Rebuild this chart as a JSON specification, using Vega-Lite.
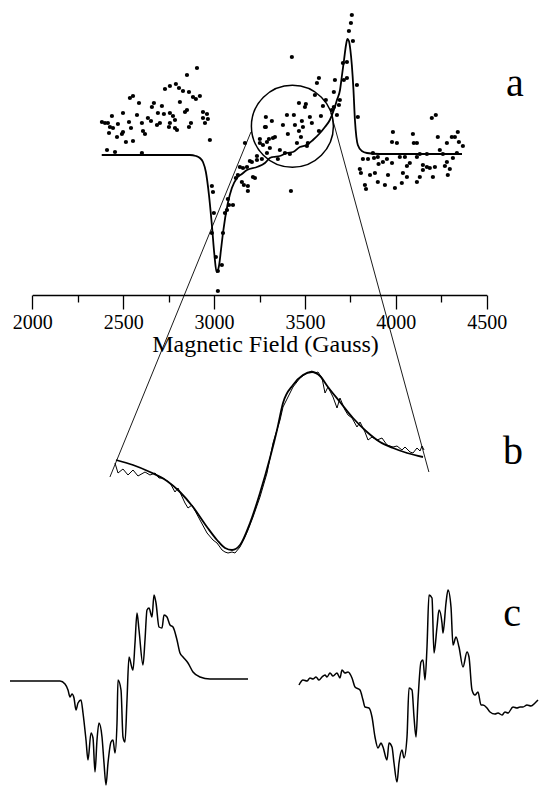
{
"$schema": "https://vega.github.io/schema/vega-lite/v6.json",
"width": 539, "height": 786, "autosize": {"type": "none"}, "padding": 0,
"background": "white",
"config": {"view": {"stroke": null}, "font": "Liberation Serif, Times New Roman, serif"},
"datasets": {
"aPts": [
{"G":2906,"I":8.7},{"G":2851,"I":8.0},{"G":2790,"I":7.1},{"G":2757,"I":6.9},{"G":2730,"I":6.6},{"G":2807,"I":6.7},{"G":2829,"I":6.4},{"G":2862,"I":6.3},{"G":2554,"I":5.9},{"G":2537,"I":5.7},{"G":2922,"I":5.9},{"G":2900,"I":5.6},{"G":2884,"I":5.8},{"G":2812,"I":5.3},{"G":2587,"I":5.2},{"G":2669,"I":5.2},{"G":2713,"I":4.9},{"G":2658,"I":4.8},{"G":2851,"I":4.5},{"G":2840,"I":4.3},{"G":2939,"I":4.3},{"G":2961,"I":4.1},{"G":2757,"I":4.2},{"G":2724,"I":4.1},{"G":2691,"I":4.2},{"G":2499,"I":4.2},{"G":2438,"I":3.9},{"G":2576,"I":4.0},{"G":2774,"I":3.9},{"G":2939,"I":3.7},{"G":2966,"I":3.6},{"G":2636,"I":3.7},{"G":2653,"I":3.4},{"G":2532,"I":3.3},{"G":2383,"I":3.3},{"G":2400,"I":3.2},{"G":2416,"I":3.2},{"G":2702,"I":3.2},{"G":2686,"I":3.0},{"G":2471,"I":3.1},{"G":2603,"I":3.2},{"G":2757,"I":3.2},{"G":2785,"I":3.5},{"G":2950,"I":3.2},{"G":2873,"I":3.2},{"G":2862,"I":2.8},{"G":2427,"I":2.8},{"G":2444,"I":2.7},{"G":2543,"I":2.7},{"G":2752,"I":2.8},{"G":2785,"I":2.7},{"G":2796,"I":2.5},{"G":2609,"I":2.4},{"G":2620,"I":2.1},{"G":2499,"I":2.3},{"G":2493,"I":2.1},{"G":2422,"I":2.2},{"G":2466,"I":1.8},{"G":2554,"I":1.4},{"G":2515,"I":1.3},{"G":2977,"I":1.5},{"G":2411,"I":0.5},{"G":2455,"I":0.3},{"G":2603,"I":0.2},
{"G":2988,"I":-3.1},{"G":2994,"I":-3.7},{"G":2999,"I":-5.8},{"G":2988,"I":-7.8},{"G":3010,"I":-10.2},{"G":3043,"I":-11.0},{"G":3021,"I":-11.6},{"G":3049,"I":-7.8},{"G":3060,"I":-5.8},{"G":3071,"I":-5.5},{"G":3082,"I":-5.0},{"G":3104,"I":-5.0},{"G":3076,"I":-4.4},{"G":3120,"I":-2.3},{"G":3131,"I":-2.0},{"G":3153,"I":-2.7},{"G":3164,"I":-3.0},{"G":3186,"I":-3.6},{"G":3214,"I":-2.2},{"G":3181,"I":-1.2},{"G":3208,"I":-0.7},{"G":3236,"I":-0.5},{"G":3142,"I":-1.2},{"G":3252,"I":1.6},{"G":3291,"I":1.3},{"G":3269,"I":1.0},{"G":3285,"I":3.8},{"G":3285,"I":2.8},{"G":3021,"I":-13.6},
{"G":3170,"I":1.2},{"G":3236,"I":-0.1},{"G":3263,"I":-0.4},{"G":3197,"I":-0.6},{"G":3225,"I":-2.3},{"G":3159,"I":-1.3},{"G":3186,"I":-3.1},
{"G":3758,"I":14.0},{"G":3753,"I":13.2},{"G":3742,"I":12.4},{"G":3764,"I":11.4},{"G":3428,"I":9.8},{"G":3577,"I":7.7},{"G":3566,"I":7.2},{"G":3665,"I":7.5},{"G":3731,"I":7.7},{"G":3714,"I":7.5},{"G":3709,"I":9.2},{"G":3731,"I":9.3},{"G":3786,"I":7.0},{"G":3555,"I":6.0},{"G":3659,"I":6.3},{"G":3615,"I":5.5},{"G":3599,"I":4.9},{"G":3692,"I":5.5},{"G":3687,"I":5.0},{"G":3659,"I":4.8},{"G":3467,"I":5.2},{"G":3505,"I":5.1},{"G":3500,"I":4.8},{"G":3676,"I":4.0},{"G":3648,"I":4.5},{"G":3791,"I":3.8},{"G":3401,"I":4.0},{"G":3439,"I":4.0},{"G":3588,"I":3.9},{"G":3527,"I":3.8},{"G":3318,"I":3.4},{"G":3483,"I":3.4},{"G":3538,"I":3.2},{"G":3379,"I":3.0},{"G":3445,"I":3.0},{"G":3280,"I":2.8},{"G":3489,"I":2.8},{"G":3467,"I":2.4},{"G":3406,"I":2.1},{"G":3577,"I":2.4},{"G":3335,"I":1.8},{"G":3324,"I":1.7},{"G":3302,"I":1.6},{"G":3252,"I":1.2},{"G":3478,"I":1.8},{"G":3456,"I":1.2},{"G":3511,"I":0.9},{"G":3516,"I":1.2},{"G":3362,"I":0.5},{"G":3307,"I":0.7},{"G":3291,"I":0.2},{"G":3390,"I":0.2},{"G":3351,"I":-0.4},{"G":3417,"I":0.1},{"G":3423,"I":-3.6},
{"G":3984,"I":2.3},{"G":4094,"I":2.1},{"G":4198,"I":3.7},{"G":4220,"I":4.0},{"G":4006,"I":1.2},{"G":3979,"I":1.3},{"G":4099,"I":1.2},{"G":4116,"I":1.2},{"G":4231,"I":1.8},{"G":4281,"I":1.2},{"G":4308,"I":1.8},{"G":4325,"I":1.8},{"G":4341,"I":2.3},{"G":4347,"I":1.3},{"G":4369,"I":0.9},{"G":4242,"I":0.5},{"G":4171,"I":0.1},{"G":4132,"I":0.1},{"G":4259,"I":0.1},{"G":4336,"I":0.2},{"G":3874,"I":0.2},{"G":3819,"I":-0.4},{"G":3847,"I":-0.4},{"G":3880,"I":-0.3},{"G":3901,"I":-0.2},{"G":3929,"I":-0.7},{"G":3951,"I":-0.4},{"G":3905,"I":-0.9},{"G":3979,"I":-0.8},{"G":4022,"I":-0.2},{"G":4050,"I":-0.2},{"G":4077,"I":-0.8},{"G":4061,"I":-1.1},{"G":4116,"I":-0.2},{"G":4149,"I":-1.0},{"G":4171,"I":-1.2},{"G":4187,"I":-1.3},{"G":4215,"I":-1.2},{"G":4281,"I":-0.7},{"G":4314,"I":-0.3},{"G":4270,"I":-1.1},{"G":4297,"I":-1.4},{"G":3802,"I":-1.4},{"G":3808,"I":-1.8},{"G":3858,"I":-2.0},{"G":3885,"I":-1.8},{"G":3901,"I":-2.7},{"G":3940,"I":-3.0},{"G":3957,"I":-2.0},{"G":4039,"I":-1.8},{"G":3995,"I":-3.3},{"G":3830,"I":-3.0},{"G":3836,"I":-3.4},{"G":4033,"I":-2.8},{"G":4116,"I":-2.7},{"G":4132,"I":-2.2},{"G":4204,"I":-2.2},{"G":4286,"I":-2.0},{"G":4149,"I":-1.5},{"G":4061,"I":-2.2}
],
"aFit": [
{"G":2382,"I":0},{"G":2647,"I":0},{"G":2867,"I":0},{"G":2900,"I":-0.1},{"G":2922,"I":-0.3},{"G":2939,"I":-0.7},{"G":2955,"I":-1.7},{"G":2972,"I":-4.0},{"G":2988,"I":-7.0},{"G":3002,"I":-10.0},{"G":3014,"I":-11.7},{"G":3027,"I":-11.1},{"G":3038,"I":-9.5},{"G":3049,"I":-7.8},{"G":3076,"I":-4.8},{"G":3098,"I":-3.3},{"G":3126,"I":-2.3},{"G":3153,"I":-1.9},{"G":3181,"I":-1.5},{"G":3236,"I":-1.2},{"G":3280,"I":-0.8},{"G":3307,"I":-0.3},{"G":3324,"I":-0.2},{"G":3362,"I":-0.1},{"G":3400,"I":0.2},{"G":3434,"I":0.3},{"G":3472,"I":0.8},{"G":3510,"I":1.0},{"G":3544,"I":1.5},{"G":3583,"I":2.2},{"G":3610,"I":2.8},{"G":3637,"I":3.5},{"G":3659,"I":4.5},{"G":3676,"I":5.5},{"G":3693,"I":6.5},{"G":3704,"I":8.0},{"G":3715,"I":9.5},{"G":3726,"I":11.0},{"G":3734,"I":11.6},{"G":3742,"I":11.4},{"G":3750,"I":10.5},{"G":3758,"I":9.0},{"G":3767,"I":6.5},{"G":3775,"I":3.5},{"G":3783,"I":1.8},{"G":3791,"I":1.0},{"G":3813,"I":0.4},{"G":3841,"I":0.2},{"G":3912,"I":0.1},{"G":4022,"I":0.1},{"G":4364,"I":0.1}
],
"aCircle": [{"G":3431,"I":2.87}],
"aLinks": [{"G":3203,"I":2.3,"G2":2427,"I2":-32.2},{"G":3643,"I":4.2,"G2":4182,"I2":-31.7}],
"aLabel": [{"G":4655,"I":7.1,"label":"a"}],
"bFit": [
{"G":3201.5,"S":0},{"G":3226.2,"S":-0.5},{"G":3250.8,"S":-1.2},{"G":3275.5,"S":-2.1},{"G":3294.4,"S":-3.2},{"G":3313.3,"S":-4.7},{"G":3333.6,"S":-6.7},{"G":3348.1,"S":-8.0},{"G":3359.7,"S":-8.8},{"G":3369.9,"S":-9.0},{"G":3381.5,"S":-8.5},{"G":3396.0,"S":-6.3},{"G":3410.5,"S":-3.3},{"G":3425.0,"S":0.2},{"G":3435.2,"S":3.0},{"G":3443.9,"S":5.7},{"G":3458.4,"S":7.5},{"G":3472.9,"S":8.5},{"G":3486.0,"S":8.8},{"G":3497.6,"S":8.4},{"G":3509.2,"S":7.3},{"G":3526.6,"S":5.8},{"G":3545.5,"S":4.2},{"G":3565.9,"S":2.8},{"G":3584.7,"S":1.8},{"G":3603.6,"S":1.2},{"G":3623.9,"S":0.7},{"G":3647.1,"S":0.3}
],
"bData": [
{"G":3200.0,"S":-0.3},{"G":3204.4,"S":-1.3},{"G":3211.6,"S":-0.9},{"G":3218.9,"S":-1.5},{"G":3226.2,"S":-1.0},{"G":3233.4,"S":-1.6},{"G":3243.6,"S":-1.2},{"G":3250.8,"S":-1.5},{"G":3258.1,"S":-1.3},{"G":3263.9,"S":-1.8},{"G":3269.7,"S":-1.8},{"G":3279.9,"S":-2.3},{"G":3287.1,"S":-3.2},{"G":3291.5,"S":-2.8},{"G":3301.6,"S":-4.3},{"G":3306.0,"S":-4.8},{"G":3311.8,"S":-4.5},{"G":3323.4,"S":-6.0},{"G":3333.6,"S":-7.3},{"G":3342.3,"S":-8.0},{"G":3348.1,"S":-8.3},{"G":3355.4,"S":-9.0},{"G":3359.7,"S":-9.2},{"G":3364.1,"S":-9.3},{"G":3369.9,"S":-9.2},{"G":3374.2,"S":-9.3},{"G":3381.5,"S":-8.7},{"G":3388.7,"S":-7.7},{"G":3393.1,"S":-7.0},{"G":3400.4,"S":-5.7},{"G":3410.5,"S":-3.7},{"G":3420.7,"S":-1.3},{"G":3429.4,"S":1.7},{"G":3439.6,"S":4.0},{"G":3443.9,"S":5.3},{"G":3458.4,"S":7.3},{"G":3468.6,"S":8.2},{"G":3478.7,"S":8.7},{"G":3486.0,"S":8.9},{"G":3490.4,"S":8.7},{"G":3494.7,"S":8.8},{"G":3500.5,"S":8.2},{"G":3504.9,"S":6.7},{"G":3509.2,"S":7.3},{"G":3516.5,"S":6.3},{"G":3522.3,"S":5.2},{"G":3526.6,"S":6.2},{"G":3533.9,"S":5.0},{"G":3538.3,"S":4.5},{"G":3544.1,"S":4.2},{"G":3551.3,"S":3.3},{"G":3555.7,"S":3.8},{"G":3562.9,"S":2.8},{"G":3567.3,"S":2.0},{"G":3573.1,"S":2.3},{"G":3580.4,"S":2.0},{"G":3587.6,"S":2.2},{"G":3594.9,"S":1.5},{"G":3603.6,"S":1.3},{"G":3609.4,"S":1.4},{"G":3616.6,"S":1.0},{"G":3621.0,"S":1.3},{"G":3628.3,"S":0.8},{"G":3632.6,"S":0.7},{"G":3638.4,"S":1.2},{"G":3642.8,"S":0.9},{"G":3645.7,"S":1.4},{"G":3648.6,"S":1.0}
],
"bLabel": [{"G":3777.8,"S":0.8,"label":"b"}],
"cLeft": [
{"B":3000,"C":0},{"B":3250,"C":0},{"B":3275,"C":-0.3},{"B":3290,"C":-0.9},{"B":3300,"C":-1.6},{"B":3310,"C":-1.3},{"B":3320,"C":-1.7},{"B":3330,"C":-2.9},{"B":3340,"C":-2.2},{"B":3355,"C":-1.9},{"B":3365,"C":-3.2},{"B":3380,"C":-5.9},{"B":3390,"C":-7.9},{"B":3405,"C":-5.2},{"B":3415,"C":-5.7},{"B":3425,"C":-9.1},{"B":3435,"C":-5.9},{"B":3445,"C":-4.2},{"B":3460,"C":-5.6},{"B":3470,"C":-8.2},{"B":3480,"C":-10.4},{"B":3490,"C":-8.2},{"B":3505,"C":-6.1},{"B":3515,"C":-5.9},{"B":3525,"C":-7.2},{"B":3535,"C":-4.2},{"B":3540,"C":0.1},{"B":3555,"C":-0.9},{"B":3565,"C":-5.6},{"B":3575,"C":-6.1},{"B":3585,"C":-1.9},{"B":3595,"C":2.4},{"B":3610,"C":1.3},{"B":3615,"C":1.1},{"B":3625,"C":3.8},{"B":3635,"C":6.8},{"B":3645,"C":5.1},{"B":3665,"C":1.6},{"B":3675,"C":4.1},{"B":3685,"C":7.1},{"B":3695,"C":7.3},{"B":3710,"C":6.4},{"B":3720,"C":8.6},{"B":3730,"C":7.8},{"B":3745,"C":5.4},{"B":3760,"C":5.3},{"B":3770,"C":6.6},{"B":3785,"C":6.4},{"B":3800,"C":5.6},{"B":3815,"C":5.4},{"B":3835,"C":4.1},{"B":3850,"C":2.8},{"B":3865,"C":2.4},{"B":3890,"C":1.8},{"B":3915,"C":0.9},{"B":3950,"C":0.4},{"B":4000,"C":0.2},{"B":4190,"C":0.2}
],
"cRight": [
{"B":3000,"C":-0.4},{"B":3020,"C":0.1},{"B":3040,"C":0},{"B":3055,"C":0.3},{"B":3070,"C":0.2},{"B":3085,"C":0.4},{"B":3100,"C":0.1},{"B":3115,"C":0.4},{"B":3130,"C":0.6},{"B":3140,"C":0.4},{"B":3155,"C":0.8},{"B":3170,"C":0.5},{"B":3190,"C":0.8},{"B":3205,"C":0.3},{"B":3215,"C":1.1},{"B":3230,"C":0.8},{"B":3245,"C":0.9},{"B":3265,"C":0.3},{"B":3280,"C":-0.6},{"B":3305,"C":-0.9},{"B":3320,"C":-1.9},{"B":3330,"C":-2.6},{"B":3350,"C":-2.7},{"B":3365,"C":-3.6},{"B":3380,"C":-5.6},{"B":3395,"C":-6.7},{"B":3410,"C":-6.2},{"B":3420,"C":-6.6},{"B":3440,"C":-7.9},{"B":3450,"C":-6.2},{"B":3465,"C":-6.6},{"B":3475,"C":-8.2},{"B":3490,"C":-10.1},{"B":3500,"C":-8.2},{"B":3515,"C":-6.9},{"B":3525,"C":-7.7},{"B":3540,"C":-5.6},{"B":3550,"C":-0.7},{"B":3565,"C":-0.9},{"B":3575,"C":-3.6},{"B":3585,"C":-5.6},{"B":3595,"C":-1.9},{"B":3610,"C":1.9},{"B":3620,"C":2.1},{"B":3630,"C":0.1},{"B":3640,"C":3.4},{"B":3650,"C":8.6},{"B":3665,"C":8.3},{"B":3675,"C":2.8},{"B":3690,"C":5.4},{"B":3700,"C":7.1},{"B":3715,"C":5.8},{"B":3720,"C":4.8},{"B":3735,"C":7.8},{"B":3745,"C":9.1},{"B":3760,"C":7.4},{"B":3770,"C":3.6},{"B":3785,"C":4.4},{"B":3800,"C":3.4},{"B":3820,"C":1.4},{"B":3840,"C":2.9},{"B":3850,"C":2.4},{"B":3865,"C":-0.9},{"B":3880,"C":-1.4},{"B":3895,"C":-1.1},{"B":3910,"C":-2.4},{"B":3920,"C":-2.4},{"B":3940,"C":-2.7},{"B":3955,"C":-3.1},{"B":3980,"C":-3.3},{"B":3995,"C":-3.2},{"B":4015,"C":-3.4},{"B":4030,"C":-3.1},{"B":4045,"C":-3.2},{"B":4070,"C":-2.6},{"B":4090,"C":-2.7},{"B":4105,"C":-2.6},{"B":4120,"C":-2.6},{"B":4140,"C":-2.4},{"B":4160,"C":-2.5},{"B":4180,"C":-2.2},{"B":4195,"C":-1.9}
],
"cLabel": [{"B":4065,"C":6.7,"label":"c"}]
},
"layer": [
{
"layer": [
{"data": {"name": "aPts"}, "mark": {"type": "point", "filled": true, "size": 18, "color": "black", "opacity": 1},
 "encoding": {
  "x": {"field": "G", "type": "quantitative", "title": "Magnetic Field (Gauss)", "scale": {"domain": [2000, 4500], "range": [32.3, 486.7], "nice": false, "zero": false},
   "axis": {"orient": "bottom", "offset": -491, "values": [2000, 2250, 2500, 2750, 3000, 3250, 3500, 3750, 4000, 4250, 4500],
    "tickSize": {"condition": {"test": "datum.value % 500 === 0", "value": 14}, "value": 7},
    "labelExpr": "datum.value % 500 === 0 ? '' + datum.value : ''",
    "grid": false, "domainColor": "black", "domainWidth": 1.6, "tickColor": "black", "tickWidth": 1.3,
    "labelFont": "Liberation Serif, Times New Roman, serif", "labelFontSize": 20, "labelColor": "black", "labelPadding": 3, "labelFlush": false, "labelOverlap": false,
    "titleFont": "Liberation Serif, Times New Roman, serif", "titleFontSize": 24, "titleFontWeight": "normal", "titleColor": "black", "titlePadding": 0, "titleX": 265}},
  "y": {"field": "I", "type": "quantitative", "scale": {"domain": [-63.1, 15.5], "nice": false, "zero": false}, "axis": null}
 }},
{"data": {"name": "aFit"}, "mark": {"type": "line", "color": "black", "strokeWidth": 1.8, "interpolate": "monotone"},
 "encoding": {
  "x": {"field": "G", "type": "quantitative", "title": "Magnetic Field (Gauss)", "scale": {"domain": [2000, 4500], "range": [32.3, 486.7], "nice": false, "zero": false}},
  "y": {"field": "I", "type": "quantitative", "scale": {"domain": [-63.1, 15.5], "nice": false, "zero": false}, "axis": null}
 }},
{"data": {"name": "aCircle"}, "mark": {"type": "point", "shape": "circle", "filled": false, "size": 6724, "stroke": "black", "strokeWidth": 1.5, "opacity": 1},
 "encoding": {
  "x": {"field": "G", "type": "quantitative", "title": "Magnetic Field (Gauss)", "scale": {"domain": [2000, 4500], "range": [32.3, 486.7], "nice": false, "zero": false}},
  "y": {"field": "I", "type": "quantitative", "scale": {"domain": [-63.1, 15.5], "nice": false, "zero": false}, "axis": null}
 }},
{"data": {"name": "aLinks"}, "mark": {"type": "rule", "color": "black", "strokeWidth": 0.9},
 "encoding": {
  "x": {"field": "G", "type": "quantitative", "title": "Magnetic Field (Gauss)", "scale": {"domain": [2000, 4500], "range": [32.3, 486.7], "nice": false, "zero": false}},
  "y": {"field": "I", "type": "quantitative", "scale": {"domain": [-63.1, 15.5], "nice": false, "zero": false}, "axis": null},
  "x2": {"field": "G2"}, "y2": {"field": "I2"}
 }},
{"data": {"name": "aLabel"}, "mark": {"type": "text", "font": "Liberation Serif, Times New Roman, serif", "fontSize": 40, "align": "center", "baseline": "middle", "color": "black"},
 "encoding": {
  "x": {"field": "G", "type": "quantitative", "title": "Magnetic Field (Gauss)", "scale": {"domain": [2000, 4500], "range": [32.3, 486.7], "nice": false, "zero": false}},
  "y": {"field": "I", "type": "quantitative", "scale": {"domain": [-63.1, 15.5], "nice": false, "zero": false}, "axis": null},
  "text": {"field": "label"}
 }}
]
},
{
"layer": [
{"data": {"name": "bData"}, "mark": {"type": "line", "color": "black", "strokeWidth": 1},
 "encoding": {
  "x": {"field": "G", "type": "quantitative", "scale": {"domain": [3033.1, 3815.5], "nice": false, "zero": false}, "axis": null},
  "y": {"field": "S", "type": "quantitative", "scale": {"domain": [-32.6, 46], "nice": false, "zero": false}, "axis": null}
 }},
{"data": {"name": "bFit"}, "mark": {"type": "line", "color": "black", "strokeWidth": 1.8, "interpolate": "monotone"},
 "encoding": {
  "x": {"field": "G", "type": "quantitative", "scale": {"domain": [3033.1, 3815.5], "nice": false, "zero": false}, "axis": null},
  "y": {"field": "S", "type": "quantitative", "scale": {"domain": [-32.6, 46], "nice": false, "zero": false}, "axis": null}
 }},
{"data": {"name": "bLabel"}, "mark": {"type": "text", "font": "Liberation Serif, Times New Roman, serif", "fontSize": 40, "align": "center", "baseline": "middle", "color": "black"},
 "encoding": {
  "x": {"field": "G", "type": "quantitative", "scale": {"domain": [3033.1, 3815.5], "nice": false, "zero": false}, "axis": null},
  "y": {"field": "S", "type": "quantitative", "scale": {"domain": [-32.6, 46], "nice": false, "zero": false}, "axis": null},
  "text": {"field": "label"}
 }}
]
},
{
"data": {"name": "cLeft"}, "mark": {"type": "line", "color": "black", "strokeWidth": 1.5, "interpolate": "monotone"},
"encoding": {
  "x": {"field": "B", "type": "quantitative", "scale": {"domain": [2950, 5645], "nice": false, "zero": false}, "axis": null},
  "y": {"field": "C", "type": "quantitative", "scale": {"domain": [-10.5, 68.1], "nice": false, "zero": false}, "axis": null}
}
},
{
"layer": [
{"data": {"name": "cRight"}, "mark": {"type": "line", "color": "black", "strokeWidth": 1.5, "interpolate": "monotone"},
 "encoding": {
  "x": {"field": "B", "type": "quantitative", "scale": {"domain": [1505, 4200], "nice": false, "zero": false}, "axis": null},
  "y": {"field": "C", "type": "quantitative", "scale": {"domain": [-10.5, 68.1], "nice": false, "zero": false}, "axis": null}
 }},
{"data": {"name": "cLabel"}, "mark": {"type": "text", "font": "Liberation Serif, Times New Roman, serif", "fontSize": 40, "align": "center", "baseline": "middle", "color": "black"},
 "encoding": {
  "x": {"field": "B", "type": "quantitative", "scale": {"domain": [1505, 4200], "nice": false, "zero": false}, "axis": null},
  "y": {"field": "C", "type": "quantitative", "scale": {"domain": [-10.5, 68.1], "nice": false, "zero": false}, "axis": null},
  "text": {"field": "label"}
 }}
]
}
],
"resolve": {"scale": {"x": "independent", "y": "independent"}, "axis": {"x": "independent", "y": "independent"}}
}
